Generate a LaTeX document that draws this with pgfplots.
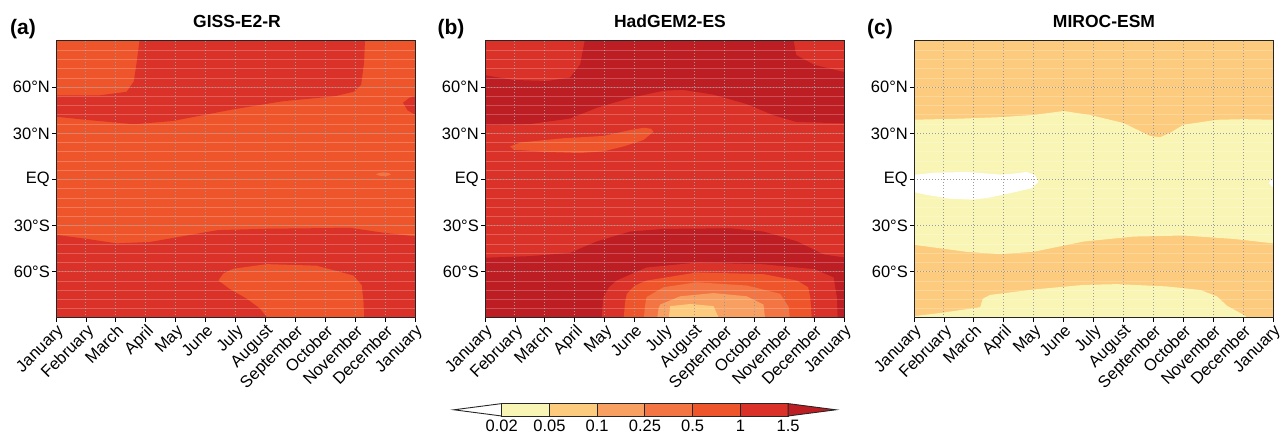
\documentclass[border=0pt]{standalone}
\usepackage{fontspec}
\setmainfont{Liberation Sans}
\usepackage{pgfplots}
\pgfplotsset{compat=1.18}
\definecolor{c0}{HTML}{F9F5B4}
\definecolor{c1}{HTML}{FDCB7D}
\definecolor{c2}{HTML}{F8A062}
\definecolor{c3}{HTML}{F27543}
\definecolor{c4}{HTML}{EF552B}
\definecolor{c5}{HTML}{DA3228}
\definecolor{c6}{HTML}{BD1E24}
\pgfplotsset{
  panel/.style={
    scale only axis, width=359pt, height=277pt, anchor=south west,
    xmin=0, xmax=12, ymin=-90, ymax=90,
    xtick={0,...,12},
    xticklabels={January,February,March,April,May,June,July,August,September,October,November,December,January},
    ytick={-60,-30,0,30,60},
    yticklabels={60°S,30°S,EQ,30°N,60°N},
    minor ytick={-84,-78,...,84},
    xmajorgrids, ymajorgrids, yminorgrids,
    major grid style={black!40, dash pattern=on 1pt off 2pt, line width=0.9pt},
    minor grid style={white, opacity=0.22, line width=0.8pt},
    minor tick length=0pt,
    major tick length=4pt,
    tick align=outside, tick pos=left,
    tick style={black, line width=0.8pt},
    axis line style={black!85, line width=1pt},
    axis on top,
    tick label style={font=\fontsize{16.5}{18}\selectfont},
    xticklabel style={rotate=45, anchor=north east, inner sep=1pt},
    yticklabel style={inner sep=2pt},
  },
  reg/.style={fill=#1, draw=none},
}
\begin{document}
\begin{tikzpicture}
\useasboundingbox (0,0) rectangle (1281pt,435pt);
% ---------------- (a) GISS-E2-R
\begin{axis}[panel, at={(56pt,117pt)}]
\addplot[reg=c4] coordinates {(-1,-100)(13,-100)(13,100)(-1,100)} --cycle;
\addplot[reg=c5] coordinates {(-0.1,54.7)(1.47,54.7)(2.36,57)(2.6,63.7)(2.7,76.5)(2.8,92)(10.33,92)(10.3,76.5)(10.2,61.5)(9.95,57)(9.3,54)(7.6,50.9)(5.9,45.5)(3.9,38)(2.6,35.9)(1.03,38.7)(-0.1,41)} --cycle;
\addplot[reg=c5] coordinates {(12.1,55)(11.8,53)(11.6,49.8)(11.75,45)(12.1,41)} --cycle;
\addplot[reg=c5] coordinates {(-0.1,-35.7)(1,-38.5)(2.03,-41.5)(3.14,-40.6)(4.26,-36.8)(5.4,-32.9)(7.05,-32)(9.83,-31.4)(10.95,-34.6)(12.1,-37.2)(12.1,-92)(-0.1,-92)} --cycle;
\addplot[reg=c4] coordinates {(7.16,-92)(6.82,-83.8)(6.38,-77.4)(5.8,-71)(5.43,-65.6)(5.6,-61)(5.93,-58)(7.05,-55)(8.7,-56)(9.94,-62.4)(10.22,-68.8)(10.28,-80)(10.3,-92)} --cycle;
\addplot[reg=c3] coordinates {(10.7,3.4)(10.8,4.3)(10.95,4.6)(11.1,4.3)(11.2,3.4)(11.1,2.5)(10.95,2.2)(10.8,2.5)} --cycle;
\end{axis}
% ---------------- (b) HadGEM2-ES
\begin{axis}[panel, at={(485pt,117pt)}]
\addplot[reg=c5] coordinates {(-1,-100)(13,-100)(13,100)(-1,100)} --cycle;
\addplot[reg=c6] coordinates {(-0.1,68.1)(0.95,64.7)(2.06,64)(2.84,66.2)(3.18,74.7)(3.35,92)(10.3,92)(10.4,80.9)(11,74.5)(12.1,69.4)(12.1,36.4)(10.4,37.4)(9.65,41.7)(8.75,49)(7.64,55.1)(6.6,58.3)(5.97,57.7)(4.85,53)(3.74,46.6)(2.84,39.6)(1.5,36)(-0.1,35.3)} --cycle;
\addplot[reg=c4] coordinates {(0.84,21.5)(1.17,24)(2.62,26.8)(3.96,28.3)(4.85,32.1)(5.3,33.6)(5.55,33)(5.63,31)(5.3,25.7)(4.63,21.5)(3.96,18.3)(3.18,17.2)(2.06,17.9)(0.95,19.4)} --cycle;
\addplot[reg=c6] coordinates {(-0.1,-50.9)(1.5,-49.8)(2.84,-47.7)(3.74,-40.2)(4.85,-33.8)(5.97,-32.1)(8.2,-31.7)(9.31,-33.8)(10.43,-40.2)(11.32,-48.7)(12.1,-50.9)(12.1,-92)(-0.1,-92)} --cycle;
\addplot[reg=c5] coordinates {(3.9,-92)(3.93,-82)(3.96,-76.4)(4.15,-70)(4.4,-65.7)(5.4,-57.2)(7.08,-54)(9.31,-55.1)(11,-58.3)(11.65,-63.6)(11.76,-76.4)(11.79,-92)} --cycle;
\addplot[reg=c4] coordinates {(4.63,-92)(4.68,-80)(4.74,-74.3)(5,-69)(5.4,-65.7)(7.08,-60.4)(9.31,-61.5)(10.43,-65.7)(10.8,-70)(10.87,-76.4)(10.93,-92)} --cycle;
\addplot[reg=c3] coordinates {(5.3,-92)(5.35,-82)(5.4,-76.4)(5.97,-70)(7.08,-66.8)(8.75,-68.9)(9.87,-74.3)(10.15,-82.8)(10.2,-92)} --cycle;
\addplot[reg=c2] coordinates {(5.74,-92)(5.8,-84)(5.85,-81.3)(6.52,-75.9)(7.64,-73.8)(8.75,-75.9)(9.31,-81.3)(9.37,-92)} --cycle;
\addplot[reg=c1] coordinates {(6.13,-92)(6.19,-82.3)(6.86,-80.9)(7.64,-82.3)(7.86,-92)} --cycle;
\end{axis}
% ---------------- (c) MIROC-ESM
\begin{axis}[panel, at={(914pt,117pt)}]
\addplot[reg=c1] coordinates {(-1,-100)(13,-100)(13,100)(-1,100)} --cycle;
\addplot[reg=c0] coordinates {(-0.1,38.8)(1.5,39.5)(2.88,40.5)(3.99,41.9)(5,44.5)(5.89,41.9)(7,36.7)(7.56,31.4)(7.9,28.2)(8.23,27.5)(8.56,30.3)(9.01,35.6)(10.13,38.8)(11.02,39.2)(12.1,38.8)(12.1,-41.7)(10.68,-38.6)(9.01,-36.4)(7.34,-37.1)(5.67,-40.3)(3.99,-47)(2.88,-48.5)(1.76,-47)(-0.1,-42.2)} --cycle;
\addplot[reg=white] coordinates {(-0.1,2.8)(0.65,4.4)(1.76,4.9)(2.88,3.2)(3.32,3.8)(3.77,4.9)(4.05,2.8)(4.16,-1.5)(3.94,-5.7)(3.21,-8.9)(2.54,-11.7)(1.98,-13.1)(1.2,-12.5)(0.42,-10)(-0.1,-7.8)} --cycle;
\addplot[reg=white] coordinates {(12.1,1)(11.92,-0.5)(11.86,-2.2)(11.95,-4.5)(12.1,-5.7)} --cycle;
\addplot[reg=c0] coordinates {(-0.1,-89)(0.98,-86.5)(2.21,-83)(2.3,-77.5)(2.54,-75)(3.99,-71.5)(5.67,-68.5)(6.78,-68)(8.45,-69.5)(9.57,-71.8)(10.13,-76)(10.46,-82)(11.02,-88)(11.3,-92)(-0.1,-92)} --cycle;
\end{axis}
% ---------------- colour bar
\begin{axis}[at={(453.9pt,19pt)}, anchor=south west, scale only axis,
  width=382pt, height=12.4pt, xmin=-1, xmax=7, ymin=0, ymax=1,
  axis line style={draw=none}, ytick=\empty,
  xtick={0,...,6}, xticklabels={0.02,0.05,0.1,0.25,0.5,1,1.5},
  major tick length=0pt, clip=false,
  xticklabel style={font=\fontsize{16.5}{18}\selectfont, inner sep=1pt, yshift=-3pt}]
\addplot[fill=white, draw=black!85, line width=0.9pt] coordinates {(0,0)(-1,0.5)(0,1)} --cycle;
\addplot[fill=c0, draw=black!85, line width=0.9pt] coordinates {(0,0)(1,0)(1,1)(0,1)} --cycle;
\addplot[fill=c1, draw=black!85, line width=0.9pt] coordinates {(1,0)(2,0)(2,1)(1,1)} --cycle;
\addplot[fill=c2, draw=black!85, line width=0.9pt] coordinates {(2,0)(3,0)(3,1)(2,1)} --cycle;
\addplot[fill=c3, draw=black!85, line width=0.9pt] coordinates {(3,0)(4,0)(4,1)(3,1)} --cycle;
\addplot[fill=c4, draw=black!85, line width=0.9pt] coordinates {(4,0)(5,0)(5,1)(4,1)} --cycle;
\addplot[fill=c5, draw=black!85, line width=0.9pt] coordinates {(5,0)(6,0)(6,1)(5,1)} --cycle;
\addplot[fill=c6, draw=black!85, line width=0.9pt] coordinates {(6,0)(7,0.5)(6,1)} --cycle;
\end{axis}
% ---------------- titles and panel letters
\node[font=\bfseries\fontsize{17.5}{20}\selectfont] at (237pt,414pt) {GISS-E2-R};
\node[font=\bfseries\fontsize{17.5}{20}\selectfont] at (670pt,414pt) {HadGEM2-ES};
\node[font=\bfseries\fontsize{17.5}{20}\selectfont] at (1104pt,414pt) {MIROC-ESM};
\node[font=\bfseries\fontsize{21}{24}\selectfont] at (23pt,406pt) {(a)};
\node[font=\bfseries\fontsize{21}{24}\selectfont] at (451pt,406pt) {(b)};
\node[font=\bfseries\fontsize{21}{24}\selectfont] at (880pt,406pt) {(c)};
\end{tikzpicture}
\end{document}
